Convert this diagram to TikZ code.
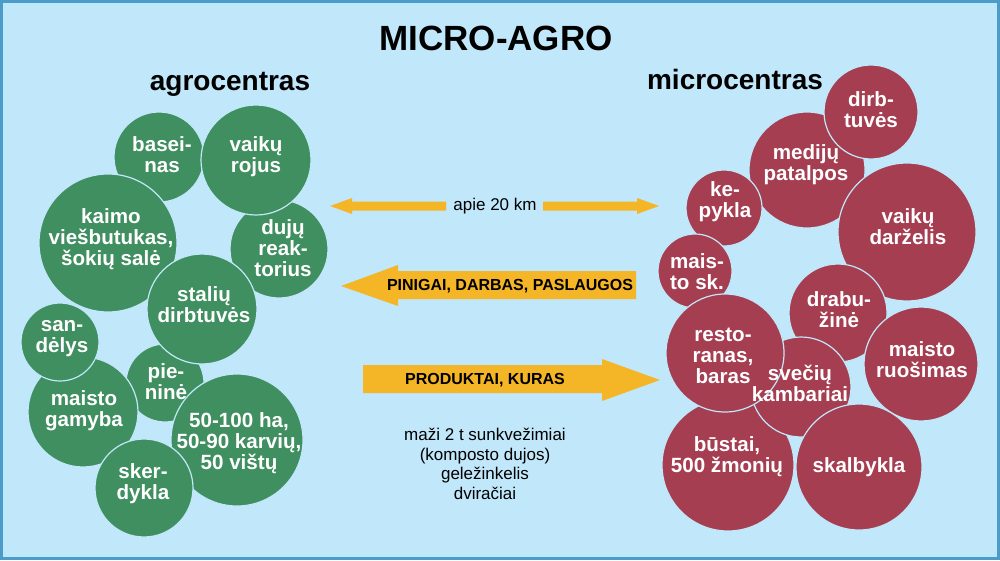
\documentclass[tikz,border=0pt]{standalone}
\usepackage{fontspec}
\setmainfont{Liberation Sans}
\definecolor{bgblue}{RGB}{193,231,250}
\definecolor{borderblue}{RGB}{74,157,200}
\definecolor{agreen}{RGB}{64,143,96}
\definecolor{ared}{RGB}{166,62,82}
\definecolor{arrowyellow}{RGB}{244,181,38}
\tikzset{
  gc/.style={circle, fill=agreen, draw=bgblue, line width=1.2pt, inner sep=0pt, outer sep=0pt},
  rc/.style={circle, fill=ared, draw=bgblue, line width=1.2pt, inner sep=0pt, outer sep=0pt},
  ctext/.style={text=white, align=center, inner sep=0pt, font=\fontsize{20.6}{21}\selectfont\bfseries},
  heading/.style={anchor=base, inner sep=0pt, font=\fontsize{28}{32}\selectfont\bfseries},
  arrowtext/.style={inner sep=0pt, font=\fontsize{16}{18}\selectfont\bfseries},
  plaintext/.style={inner sep=0pt, align=center, font=\fontsize{17}{19.7}\selectfont},
  blockarrow/.style={fill=arrowyellow}
}
\begin{document}
\begin{tikzpicture}[x=1pt,y=-1pt]
\useasboundingbox (0,0) rectangle (1000,560);
\fill[borderblue] (0,0) rectangle (1000,560);
\fill[bgblue] (3,3) rectangle (997,557);

% titles
\node[anchor=base, inner sep=0pt, font=\fontsize{35}{40}\selectfont\bfseries] (title) at (496,50) {MICRO-AGRO};
\node[heading] (agro) at (230,90) {agrocentras};
\node[heading] (micro) at (735,89) {microcentras};

% left cluster circles
\node[gc, minimum size=90pt] (baseinas) at (159,157) {};
\node[gc, minimum size=98pt] (dujos) at (279,249) {};
\node[gc, minimum size=110pt] (rojus) at (256,160) {};
\node[gc, minimum size=138pt] (kaimo) at (108,243) {};
\node[gc, minimum size=78pt] (pienine) at (165,383) {};
\node[gc, minimum size=110pt] (staliu) at (202,309) {};
\node[gc, minimum size=132pt] (ha) at (237,440) {};
\node[gc, minimum size=110pt] (gamyba) at (83,412) {};
\node[gc, minimum size=78pt] (sandelys) at (60,342) {};
\node[gc, minimum size=98pt] (skerdykla) at (144,488) {};

% right cluster circles
\node[rc, minimum size=116pt] (medija) at (807,170) {};
\node[rc, minimum size=76pt] (kepykla) at (724,208) {};
\node[rc, minimum size=94pt] (dirbtuves) at (871,112) {};
\node[rc, minimum size=138pt] (darzelis) at (907,232) {};
\node[rc, minimum size=74pt] (maistosk) at (695,271) {};
\node[rc, minimum size=98pt] (drabuzine) at (838,313) {};
\node[rc, minimum size=114pt] (ruosimas) at (921,364) {};
\node[rc, minimum size=132pt] (bustai) at (728,465) {};
\node[rc, minimum size=100pt] (sveciu) at (801,387) {};
\node[rc, minimum size=118pt] (restoranas) at (725,353) {};
\node[rc, minimum size=126pt] (skalbykla) at (859,467) {};

% left texts
\node[ctext] (baseinas-t) at (162,155) {basei-\\nas};
\node[ctext] (rojus-t) at (256,157) {vaikų\\rojus};
\node[ctext] (kaimo-t) at (111,239) {kaimo\\viešbutukas,\\šokių salė};
\node[ctext] (dujos-t) at (283,248) {dujų\\reak-\\torius};
\node[ctext] (staliu-t) at (204,305) {stalių\\dirbtuvės};
\node[ctext] (sandelys-t) at (62,339) {san-\\dėlys};
\node[ctext] (gamyba-t) at (84,411) {maisto\\gamyba};
\node[ctext] (pienine-t) at (166,382) {pie-\\ninė};
\node[ctext] (ha-t) at (239,443) {50-100 ha,\\50-90 karvių,\\50 vištų};
\node[ctext] (skerdykla-t) at (143,484) {sker-\\dykla};

% right texts
\node[ctext] (dirbtuves-t) at (871,110) {dirb-\\tuvės};
\node[ctext] (medija-t) at (806,165) {medijų\\patalpos};
\node[ctext] (kepykla-t) at (725,202) {ke-\\pykla};
\node[ctext] (darzelis-t) at (908,227) {vaikų\\darželis};
\node[ctext] (maistosk-t) at (697,272) {mais-\\to sk.};
\node[ctext] (drabuzine-t) at (839,310) {drabu-\\žinė};
\node[ctext] (restoranas-t) at (723,356) {resto-\\ranas,\\baras};
\node[ctext] (sveciu-t) at (800,383) {svečių\\kambariai};
\node[ctext] (ruosimas-t) at (922,360) {maisto\\ruošimas};
\node[ctext] (bustai-t) at (727,457) {būstai,\\500 žmonių};
\node[ctext] (skalbykla-t) at (859,467) {skalbykla};

% arrows
\fill[blockarrow] (330,206) -- (352,198) -- (352,201.5) -- (446,201.5) -- (446,210.5) -- (352,210.5) -- (352,214) -- cycle;
\fill[blockarrow] (659,206) -- (637,198) -- (637,201.5) -- (543,201.5) -- (543,210.5) -- (637,210.5) -- (637,214) -- cycle;
\node[plaintext] (km) at (495,206) {apie 20 km};

\fill[blockarrow] (341,286) -- (398,265) -- (398,271) -- (636,271) -- (636,299) -- (398,299) -- (398,306) -- cycle;
\node[arrowtext] (pinigai) at (510,286) {PINIGAI, DARBAS, PASLAUGOS};

\fill[blockarrow] (660,380) -- (602,359) -- (602,365) -- (363,365) -- (363,393) -- (602,393) -- (602,401) -- cycle;
\node[arrowtext] (produktai) at (485,380) {PRODUKTAI, KURAS};

\node[plaintext] (transport) at (485,464) {maži 2 t sunkvežimiai\\(komposto dujos)\\geležinkelis\\dviračiai};
\end{tikzpicture}
\end{document}
